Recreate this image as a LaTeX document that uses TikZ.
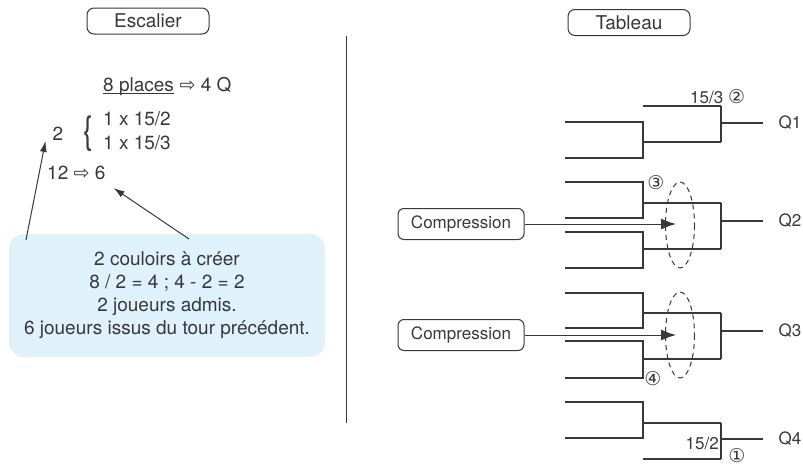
\documentclass[tikz,border=0pt]{standalone}
\usepackage{fontspec}
\setmainfont{TeX Gyre Heros}
\newfontfamily\symbfont{DejaVu Sans}
\usetikzlibrary{arrows.meta}
\definecolor{ink}{HTML}{383838}
\definecolor{notefill}{HTML}{DFF1FA}
\newcommand{\harrow}{{\symbfont\fontsize{19}{19}\selectfont ⇨}}
\newcommand{\circd}[1]{{\symbfont\fontsize{19}{19}\selectfont #1}}
\tikzset{
  titlebox/.style={draw=ink, line width=1pt, rounded corners=7pt, minimum width=122pt, minimum height=26pt, inner sep=0pt, text=ink, font=\fontsize{19}{19}\selectfont},
  compbox/.style={draw=ink, line width=1pt, rounded corners=6pt, minimum width=126pt, minimum height=31pt, inner sep=0pt, text=ink, font=\fontsize{17}{17}\selectfont},
  txt/.style={text=ink, inner sep=0pt, font=\fontsize{19}{24}\selectfont},
  small/.style={text=ink, inner sep=0pt, font=\fontsize{17}{17}\selectfont},
  notebox/.style={fill=notefill, rounded corners=15pt, minimum width=316pt, minimum height=123pt, align=center, text=ink, inner sep=0pt, font=\fontsize{19}{23}\selectfont},
  bracket/.style={draw=ink, line width=1.2pt},
  tip/.style={draw=ink, line width=1pt, -{Latex[length=11pt,width=7pt]}},
  bigtip/.style={draw=ink, line width=1pt, -{Latex[length=15pt,width=11pt]}}
}

\begin{document}
\begin{tikzpicture}[x=1pt, y=-1pt]
    \useasboundingbox (0,0) rectangle (803,466);
    %the titles
    \node[titlebox] (escalier) at (148,21) {Escalier};
    \node[titlebox] (tableau) at (629,22.5) {Tableau};
    \draw[ink, line width=1pt] (346,36) -- (346,423);
    %left side: the counts
    \node[txt, anchor=base west] (places) at (103,91) {8 places};
    \node[txt, anchor=base west] (quarts) at (places.base east) {\ \harrow{} 4 Q};
    \draw[ink, line width=0.8pt] ([yshift=-2pt]places.base west) -- ([yshift=-2pt]places.base east);
    \node[txt] (two) at (58,134) {2};
    \node[txt, font=\fontsize{38}{38}\selectfont] (brace) at (88,134) {\scalebox{0.75}[1]{\{}};
    \node[txt, anchor=west] (split) at (103,133) {\begin{tabular}{@{}l@{}}1 x 15/2\\1 x 15/3\end{tabular}};
    \node[txt, anchor=west] (twelve) at (47,173) {12 \harrow{} 6};
    %the note
    \node[notebox] (note) at (167,295.5) {2 couloirs à créer\\8 / 2 = 4 ; 4 - 2 = 2\\2 joueurs admis.\\6 joueurs issus du tour précédent.};
    \coordinate (n1) at (26,240);
    \coordinate (n2) at (189,239);
    \draw[tip] (n1) -- ([xshift=-7pt]two.south west);
    \draw[tip] (n2) -- ([xshift=8pt,yshift=-8pt]twelve.south east);
    %right side: first round
    \foreach \a/\b/\m in {122/158/142, 182/218/203, 232/268/249, 293/328/313, 341/378/359, 402/438/423}
        \draw[bracket] (565,\a) -- (643,\a) -- (643,\b) -- (565,\b) (643,\m) -- (721,\m);
    %second round
    \draw[bracket] (643,106) -- (721,106) (643,459) -- (721,459);
    \foreach \a/\b/\o in {106/142/123, 203/249/221, 313/359/331, 423/459/439}
        \draw[bracket] (721,\a) -- (721,\b) (721,\o) -- (763,\o);
    \node[small] (q1) at (790,123) {Q1};
    \node[small] (q2) at (790,221) {Q2};
    \node[small] (q3) at (790,331) {Q3};
    \node[small] (q4) at (790,439) {Q4};
    %the seeds
    \node[small, anchor=west] (seedb) at (690,97) {15/3 \circd{②}};
    \node[small] (seedc) at (656,183) {\circd{③}};
    \node[small] (seedd) at (653,379) {\circd{④}};
    \node[small, anchor=east] (seeda) at (719,443) {15/2};
    \node[small] (seedan) at (737,456) {\circd{①}};
    %compression
    \draw[ink, line width=1pt, dash pattern=on 5pt off 4pt] (680,225) ellipse (14.5 and 43) (680,335) ellipse (14.5 and 43);
    \node[compbox] (comp2) at (461,224) {Compression};
    \node[compbox] (comp3) at (461,335) {Compression};
    \coordinate (c2) at (676,224);
    \coordinate (c3) at (676,335);
    \draw[bigtip] (comp2.east) -- (c2);
    \draw[bigtip] (comp3.east) -- (c3);
\end{tikzpicture}
\end{document}
